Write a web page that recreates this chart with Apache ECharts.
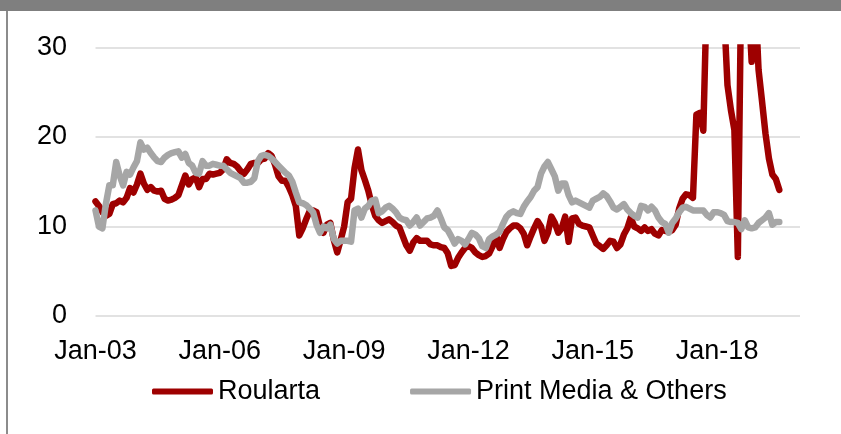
<!DOCTYPE html>
<html>
<head>
<meta charset="utf-8">
<script src="https://cdn.jsdelivr.net/npm/echarts@6/dist/echarts.min.js"></script>
<style>
html,body{margin:0;padding:0;background:#fff;}
#chart{width:841px;height:434px;}
</style>
</head>
<body>
<div id="chart"></div>
<script>
// Monthly categories Jan-03 .. Jan-20
var monthNames = ['Jan','Feb','Mar','Apr','May','Jun','Jul','Aug','Sep','Oct','Nov','Dec'];
var years = ['03','04','05','06','07','08','09','10','11','12','13','14','15','16','17','18','19','20'];
var categories = [];
years.forEach(function (y) { monthNames.forEach(function (m) { categories.push(m + '-' + y); }); });
categories = categories.slice(0, 205);

var seriesNames = ['Roularta', 'Print Media & Others'];

var roularta = [
12.8,12.3,11.6,11.2,11.4,12.5,12.6,12.9,12.7,13.2,14.3,13.8,
14.7,15.9,14.8,14.1,14.4,14.0,13.9,14.0,13.1,12.9,13.0,13.2,
13.5,14.6,15.7,14.7,15.3,15.5,14.4,15.3,15.3,15.9,15.8,15.9,
16.0,16.4,17.5,17.1,17.0,16.7,16.2,15.9,16.4,17.0,17.1,17.1,
17.5,17.6,18.2,17.9,16.9,15.6,15.1,15.1,14.4,13.5,12.3,9.0,
9.8,10.8,11.7,11.8,11.6,10.0,9.3,10.2,10.4,8.5,7.1,8.5,
10.0,12.7,13.1,16.5,18.6,16.3,15.2,14.0,12.4,11.2,10.7,10.4,
10.6,10.8,10.5,10.1,9.9,8.9,7.9,7.3,8.2,8.7,8.4,8.4,
8.4,8.0,7.9,7.9,7.7,7.6,7.0,5.6,5.7,6.5,7.1,7.6,
7.8,7.6,7.1,6.8,6.6,6.7,7.0,7.8,9.0,7.6,8.6,9.4,
9.8,10.1,10.1,9.8,9.2,7.9,8.9,9.8,10.6,10.0,8.4,9.3,
11.1,10.4,9.3,9.8,11.1,8.3,10.9,11.0,10.3,10.1,10.0,9.9,
9.0,8.1,7.8,7.5,7.9,8.4,8.3,7.6,8.0,9.1,9.8,11.0,
10.0,9.8,9.5,9.9,9.5,9.7,9.2,9.0,9.6,9.5,9.4,9.6,
10.2,12.0,13.1,13.6,13.5,13.2,22.5,22.7,20.7,36,42,40,
45,38,34,25.8,23.0,20.8,6.6,38,42,36,28.4,36,
27.5,24.0,20.4,17.6,15.8,15.3,14.1
];

var printMedia = [
11.8,10.0,9.8,12.5,14.6,14.6,17.2,15.7,14.6,16.1,15.8,16.6,
17.3,19.4,18.6,18.8,18.2,17.7,17.3,17.2,17.7,18.0,18.2,18.3,
18.4,17.7,18.1,17.1,16.8,16.0,15.9,17.3,16.8,16.8,17.0,16.9,
16.8,16.8,16.4,16.0,15.8,15.6,15.4,14.9,14.9,15.0,15.4,17.3,
17.9,18.0,17.9,17.6,17.2,16.8,16.4,16.0,15.7,15.0,13.8,12.7,
12.6,12.4,12.0,11.6,10.2,9.3,10.0,9.8,10.2,8.6,8.1,8.4,
8.4,8.4,8.3,11.8,12.0,11.0,12.0,12.3,12.9,13.0,11.5,11.7,
12.1,12.3,12.0,11.6,11.0,10.8,10.7,10.1,10.5,11.0,10.1,10.5,
10.9,11.0,11.2,11.8,10.9,9.9,9.6,8.9,8.1,8.6,8.4,8.0,
8.6,9.3,9.1,8.7,7.8,7.6,8.6,8.9,9.1,9.4,10.3,11.1,
11.5,11.7,11.5,11.4,12.2,12.8,13.3,14.0,14.4,15.9,16.7,17.2,
16.4,15.6,14.0,14.8,14.8,13.5,12.7,12.9,12.7,12.5,12.3,12.1,
12.9,13.1,13.3,13.7,13.4,12.8,12.1,11.9,12.2,12.5,11.9,11.5,
11.2,11.0,12.3,12.2,11.8,12.2,11.8,11.0,10.5,10.3,9.3,10.4,
10.9,11.6,12.1,12.2,12.0,11.8,11.8,11.8,11.8,11.3,11.0,11.6,
11.6,11.5,11.3,10.6,10.5,10.5,10.4,9.7,10.7,9.9,9.8,9.9,
10.4,10.7,11.0,11.5,10.2,10.5,10.5
];

var yTicks = { min: 0, max: 30, interval: 10 };

var FONT = '"Liberation Sans", Arial, sans-serif';
var chart = echarts.init(document.getElementById('chart'), null, { renderer: 'canvas' });
chart.setOption({
  animation: false,
  backgroundColor: '#ffffff',
  graphic: [
    { type: 'rect', shape: { x: 0, y: 0, width: 841, height: 11 }, style: { fill: '#7f7f7f' }, silent: true },
    { type: 'rect', shape: { x: 6, y: 11, width: 2, height: 423 }, style: { fill: '#8c8c8c' }, silent: true }
  ],
  grid: { left: 95.5, right: 41, top: 47.5, bottom: 118, containLabel: false },
  legend: {
    data: seriesNames,
    left: 147,
    top: 373,
    itemWidth: 61,
    itemHeight: 6,
    itemGap: 90,
    icon: 'roundRect',
    textStyle: { fontFamily: FONT, fontSize: 27, color: '#000' }
  },
  xAxis: {
    type: 'category',
    data: categories,
    boundaryGap: false,
    axisLine: { show: false },
    axisTick: { show: false },
    splitLine: { show: false },
    axisLabel: {
      interval: function (i) { return i % 36 === 0; },
      fontFamily: FONT,
      fontSize: 27,
      color: '#000',
      margin: 22
    }
  },
  yAxis: {
    type: 'value',
    min: yTicks.min,
    max: yTicks.max,
    interval: yTicks.interval,
    axisLine: { show: false },
    axisTick: { show: false },
    splitLine: { lineStyle: { color: '#d9d9d9', width: 1.5 } },
    axisLabel: { fontFamily: FONT, fontSize: 27, color: '#000', margin: 28.5 }
  },
  series: [
    {
      name: seriesNames[0], type: 'line', data: roularta, symbol: 'none', clip: true,
      itemStyle: { color: '#9e0000' },
      lineStyle: { color: '#9e0000', width: 6.5, cap: 'round', join: 'round' }
    },
    {
      name: seriesNames[1], type: 'line', data: printMedia, symbol: 'none', clip: true,
      itemStyle: { color: '#a6a6a6' },
      lineStyle: { color: '#a6a6a6', width: 6.5, cap: 'round', join: 'round' }
    }
  ]
});
</script>
</body>
</html>
